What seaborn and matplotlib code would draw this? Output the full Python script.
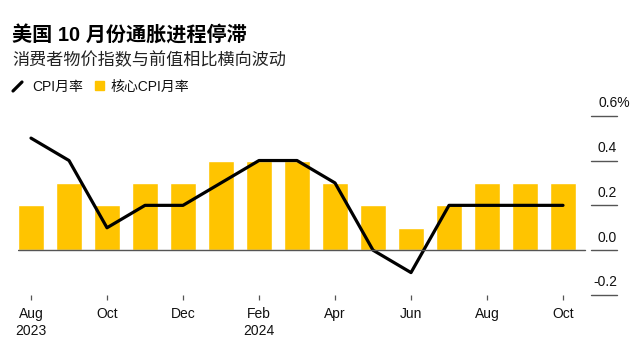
import numpy as np
import pandas as pd
import matplotlib
matplotlib.use("Agg")
import matplotlib.pyplot as plt
import matplotlib.transforms as mtransforms
from matplotlib.lines import Line2D
from matplotlib.patches import Rectangle
import seaborn as sns

# data (monthly %, Aug 2023 - Oct 2024)
months = ["2023-08", "2023-09", "2023-10", "2023-11", "2023-12", "2024-01", "2024-02",
          "2024-03", "2024-04", "2024-05", "2024-06", "2024-07", "2024-08", "2024-09", "2024-10"]
cpi = [0.5, 0.4, 0.1, 0.2, 0.2, 0.3, 0.4, 0.4, 0.3, 0.0, -0.1, 0.2, 0.2, 0.2, 0.2]
core_cpi = [0.2, 0.3, 0.2, 0.3, 0.3, 0.4, 0.4, 0.4, 0.3, 0.2, 0.1, 0.2, 0.3, 0.3, 0.3]
tick_labels = ["Aug\n2023", "Oct", "Dec", "Feb\n2024", "Apr", "Jun", "Aug", "Oct"]
y_ticks = [-0.2, 0.0, 0.2, 0.4, 0.6]

title = "美国 10 月份通胀进程停滞"
subtitle = "消费者物价指数与前值相比横向波动"
legend_cpi = "CPI月率"
legend_core = "核心CPI月率"

YELLOW = "#FFC400"
GRAY = "#555555"

sns.set_theme(style="white")
plt.rcParams['font.family'] = ['Liberation Sans', 'Noto Sans CJK SC', 'DejaVu Sans']

W, H = 641, 358
fig = plt.figure(figsize=(W / 100, H / 100), dpi=100)

def fx(px):
    return px / W

def fy(py):
    return 1 - py / H

ax_l, ax_r, ax_t, ax_b = 17.7, 617, 115.7, 295
ax = fig.add_axes([fx(ax_l), fy(ax_b), (ax_r - ax_l) / W, (ax_b - ax_t) / H])

df = pd.DataFrame({"month": months, "cpi": cpi, "core": core_cpi})
df["pos"] = np.arange(len(df))

sns.barplot(data=df, x="month", y="core", color=YELLOW, saturation=1, width=0.7, ax=ax)
sns.lineplot(data=df, x="pos", y="cpi", color="black", linewidth=2.3, ax=ax)

pitch = 38.0
ax.set_xlim((ax_l - 31) / pitch, (ax_r - 31) / pitch)
ax.set_ylim(-0.2, 0.6)
for s in ax.spines.values():
    s.set_visible(False)

# zero baseline
ax.axhline(0, xmin=0, xmax=(585 - ax_l) / (ax_r - ax_l), color=GRAY, lw=1)

ax.set_xlabel("")
ax.set_ylabel("")
ax.set_xticks(np.arange(0, len(months), 2))
ax.set_xticklabels(tick_labels, fontsize=10, color="#111111", linespacing=1.25)
ax.tick_params(axis="x", bottom=True, length=3.6, width=0.9, color=GRAY, pad=5)
ax.set_yticks([])

# right-hand value ticks
blend = mtransforms.blended_transform_factory(ax.transAxes, ax.transData)
x0 = (591 - ax_l) / (ax_r - ax_l)
for v in y_ticks:
    ax.plot([x0, 1.0], [v, v], transform=blend, color=GRAY, lw=1, clip_on=False)
    label = f"{v:.1f}"
    dx = 0
    if v == y_ticks[-1]:
        label += "%"
        dx = 13
    ax.annotate(label, xy=(1.0, v), xycoords=blend, xytext=(dx, 8.5),
                textcoords="offset pixels", ha="right", va="baseline",
                fontsize=10, color="#111111")

# title block
fig.text(fx(12), fy(42), title, fontsize=14.5, fontweight="bold", color="black", va="baseline")
fig.text(fx(12), fy(65), subtitle, fontsize=12.3, color="#222222", va="baseline")

# legend
fig.add_artist(Line2D([fx(13), fx(22)], [fy(91), fy(82)], color="black", lw=2.3))
fig.text(fx(32), fy(90.5), legend_cpi, fontsize=10, color="#111111", va="baseline")
fig.add_artist(Rectangle((fx(95), fy(90)), 9 / W, 9 / H, color=YELLOW, transform=fig.transFigure))
fig.text(fx(111), fy(90.5), legend_core, fontsize=10, color="#111111", va="baseline")

fig.savefig("out.png", dpi=100)
